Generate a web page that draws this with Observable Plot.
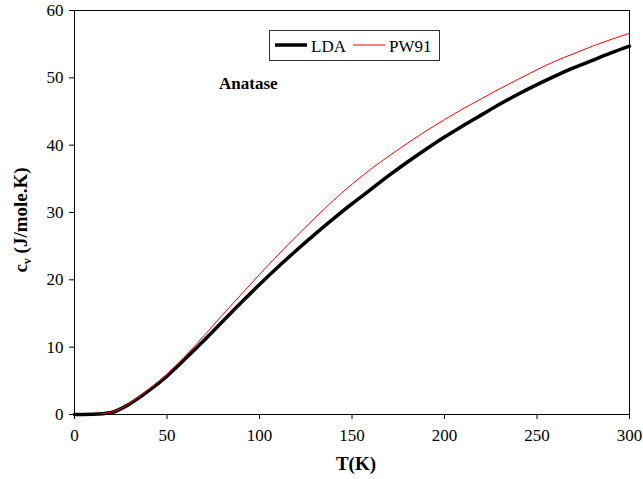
<!DOCTYPE html>
<html><head><meta charset="utf-8">
<script src="https://cdn.jsdelivr.net/npm/d3@7"></script>
<script src="https://cdn.jsdelivr.net/npm/@observablehq/plot@0.6"></script>
<style>html,body{margin:0;padding:0;background:#fff;overflow:hidden}</style>
</head><body><div id="chart"></div>
<script>
const temps = [0,10,20,30,40,50,60,70,80,90,100,110,120,130,140,150,160,170,180,190,200,210,220,230,240,250,260,270,280,290,300];
const lda   = [0,0.02,0.3,1.6,3.5,5.7,8.3,11.0,13.8,16.6,19.3,21.9,24.4,26.8,29.1,31.3,33.4,35.5,37.5,39.4,41.2,42.9,44.5,46.1,47.6,49.0,50.3,51.5,52.6,53.7,54.7];
const pw91  = [0,0.02,0.35,1.7,3.7,6.0,8.7,11.7,14.8,17.8,20.8,23.7,26.5,29.2,31.8,34.2,36.4,38.4,40.3,42.1,43.8,45.4,46.9,48.4,49.8,51.2,52.5,53.6,54.7,55.7,56.6];
const xTicks = [0,50,100,150,200,250,300];
const yTicks = [0,10,20,30,40,50,60];
const seriesNames = ["LDA","PW91"];
const seriesColors = ["#000000","#ff0000"];
const seriesWidths = [3.5,1];
const xTitle = "T(K)";
const yTitleMain = "c";
const yTitleSub = "v";
const yTitleRest = " (J/mole.K)";
const annotation = "Anatase";

const ldaData = temps.map((t,i)=>({T:t, cv:lda[i]}));
const pwData = temps.map((t,i)=>({T:t, cv:pw91[i]}));

const ff = "'Liberation Serif', 'Times New Roman', serif";
const W = 643, H = 479;
const plot = Plot.plot({
  width: W, height: H,
  marginLeft: 74, marginRight: 14, marginTop: 10, marginBottom: 65,
  style: {fontFamily: ff, fontSize: "17px", background: "#fff", color: "#000", overflow: "visible"},
  x: {domain: [0,300], ticks: xTicks, label: null, tickSize: 5, tickPadding: 9},
  y: {domain: [0,60], ticks: yTicks, label: null, tickSize: 5, tickPadding: 6},
  marks: [
    Plot.line(ldaData, {x: "T", y: "cv", stroke: seriesColors[0], strokeWidth: seriesWidths[0], curve: "monotone-x"}),
    Plot.line(pwData, {x: "T", y: "cv", stroke: seriesColors[1], strokeWidth: seriesWidths[1], curve: "monotone-x"}),
    Plot.frame({stroke: "#000", strokeWidth: 1})
  ]
});
document.getElementById("chart").appendChild(plot);

const svg = d3.select(plot);
// x title
svg.append("text").attr("x", 356).attr("y", 470).attr("text-anchor", "middle")
  .attr("font-family", ff).attr("font-size", 19).attr("font-weight", "bold").attr("fill", "#000").text(xTitle);
// y title
const yt = svg.append("text").attr("transform", "translate(27,220) rotate(-90)").attr("text-anchor", "middle")
  .attr("font-family", ff).attr("font-size", 19).attr("font-weight", "bold").attr("fill", "#000");
yt.append("tspan").text(yTitleMain);
yt.append("tspan").attr("font-size", 12).attr("dy", 4).text(yTitleSub);
yt.append("tspan").attr("dy", -4).text(yTitleRest);
// annotation
svg.append("text").attr("x", 219).attr("y", 89).attr("text-anchor", "start").attr("font-family", ff).attr("font-size", 17)
  .attr("font-weight", "bold").attr("fill", "#000").text(annotation);
// legend
const lg = svg.append("g");
lg.append("rect").attr("x", 269.5).attr("y", 30.5).attr("width", 170).attr("height", 30)
  .attr("fill", "#fff").attr("stroke", "#333").attr("stroke-width", 1);
const lx = [275, 353];
seriesNames.forEach((n,i)=>{
  lg.append("line").attr("x1", lx[i]).attr("x2", lx[i]+32).attr("y1", 45).attr("y2", 45)
    .attr("stroke", seriesColors[i]).attr("stroke-width", seriesWidths[i]);
  lg.append("text").attr("x", lx[i]+36).attr("y", 51.5).attr("text-anchor", "start").attr("font-family", ff).attr("font-size", 17)
    .attr("fill", "#000").text(n);
});
</script></body></html>
